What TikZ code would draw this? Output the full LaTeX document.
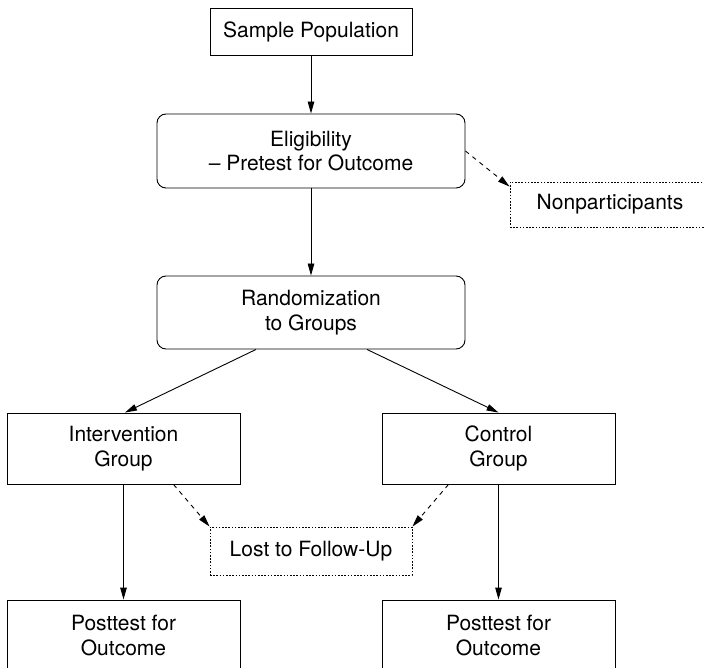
\documentclass[tikz,border=0pt]{standalone}
\usepackage{fontspec}
\setmainfont{TeX Gyre Heros}
\usetikzlibrary{arrows.meta}
\begin{document}
\begin{tikzpicture}[x=1pt,y=-1pt,
  every node/.style={font=\fontsize{21}{24.5}\selectfont, align=center, inner sep=0pt},
  box/.style={draw, line width=0.9pt},
  roundbox/.style={box, rounded corners=9pt},
  dotbox/.style={draw, line width=0.9pt, dash pattern=on 1.6pt off 1.6pt},
  arr/.style={line width=0.9pt, -{Triangle[length=12pt,width=6.5pt]}},
  darr/.style={arr, dash pattern=on 4.5pt off 4.5pt}
]
\useasboundingbox (0,0) rectangle (704,668);

% study flow boxes
\node[box, minimum width=202pt, minimum height=47pt] (sample) at (311,31.5) {Sample Population};
\node[roundbox, minimum width=308pt, minimum height=74pt] (elig) at (311,151) {Eligibility\\– Pretest for Outcome};
\node[dotbox, minimum width=200pt, minimum height=45pt] (nonpart) at (610,204.5) {Nonparticipants};
\node[roundbox, minimum width=308pt, minimum height=73pt] (rand) at (311,312.5) {Randomization\\to Groups};
\node[box, minimum width=233pt, minimum height=71pt] (interv) at (123.5,448.5) {Intervention\\Group};
\node[box, minimum width=233pt, minimum height=71pt] (control) at (498.5,448.5) {Control\\Group};
\node[dotbox, minimum width=202pt, minimum height=48pt] (lost) at (311,551) {Lost to Follow-Up};
\node[box, minimum width=233pt, minimum height=71pt] (postL) at (123.5,635.5) {Posttest for\\Outcome};
\node[box, minimum width=233pt, minimum height=71pt] (postR) at (498.5,635.5) {Posttest for\\Outcome};

% connectors
\draw[arr] (sample.south) -- (elig.north);
\draw[arr] (elig.south) -- (rand.north);
\draw[darr] (elig.east) -- ([yshift=-5pt]nonpart.north west);
\draw[arr] ([xshift=-55pt]rand.south) -- ([xshift=1.5pt]interv.north);
\draw[arr] ([xshift=56pt]rand.south) -- (control.north);
\draw[arr] (interv.south) -- (postL.north);
\draw[arr] (control.south) -- (postR.north);
\draw[darr] ([xshift=50pt]interv.south) -- (lost.north west);
\draw[darr] ([xshift=-50pt]control.south) -- (lost.north east);
\end{tikzpicture}
\end{document}
